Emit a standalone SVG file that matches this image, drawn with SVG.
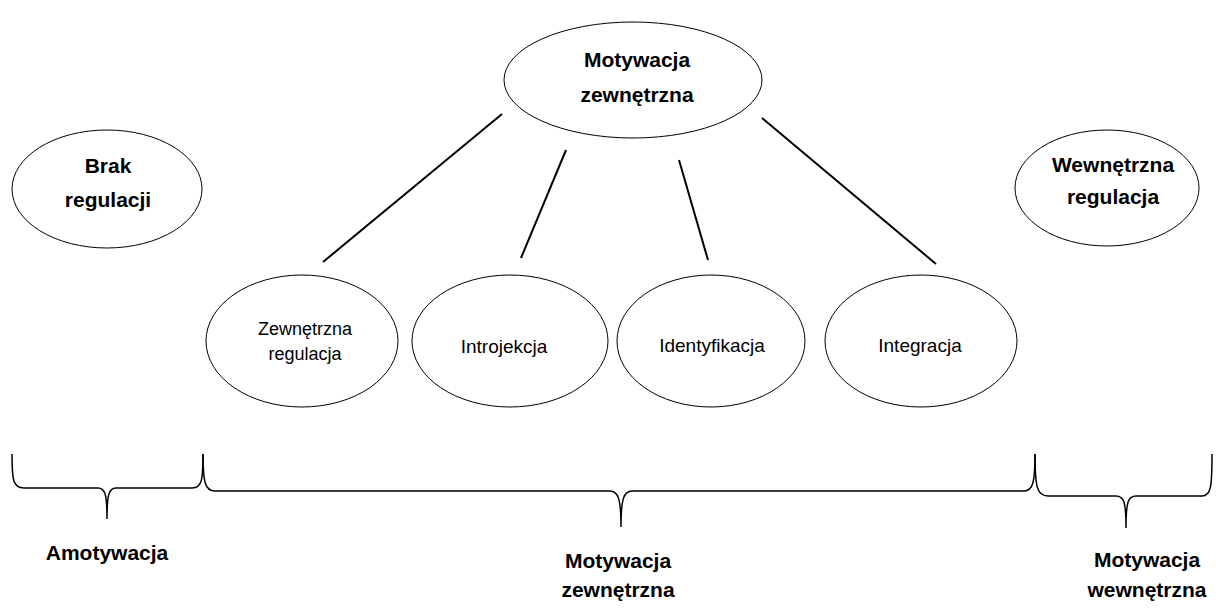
<svg xmlns="http://www.w3.org/2000/svg" width="1216" height="608" viewBox="0 0 1216 608">
  <style>
    .node ellipse { fill: #ffffff; stroke: #000000; stroke-width: 1; }
    .bold { font-family: "Liberation Sans", Arial, sans-serif; font-weight: bold; font-size: 21px; fill: #000000; text-anchor: middle; }
    .reg { font-family: "Liberation Sans", Arial, sans-serif; font-size: 19px; fill: #000000; text-anchor: middle; }
    .small { font-size: 18px; }
    .conn line { stroke: #000000; stroke-width: 2; }
    .brace path { fill: none; stroke: #000000; stroke-width: 1.5; }
  </style>
  <rect width="1216" height="608" fill="#ffffff"/>

  <!-- connectors from the top node to the four sub-types -->
  <g id="connectors" class="conn">
    <line x1="502" y1="114" x2="323" y2="262"/>
    <line x1="566" y1="150" x2="521" y2="258"/>
    <line x1="679" y1="160" x2="708" y2="260"/>
    <line x1="762" y1="118" x2="936" y2="264"/>
  </g>

  <g id="motywacja-zewnetrzna" class="node">
    <ellipse cx="633" cy="80" rx="129" ry="58"/>
    <text class="bold" x="637" y="67">Motywacja</text>
    <text class="bold" x="637" y="102">zewnętrzna</text>
  </g>

  <g id="brak-regulacji" class="node">
    <ellipse cx="107" cy="189" rx="95" ry="59"/>
    <text class="bold" x="108" y="173">Brak</text>
    <text class="bold" x="108" y="207">regulacji</text>
  </g>

  <g id="wewnetrzna-regulacja" class="node">
    <ellipse cx="1107" cy="188" rx="92" ry="58"/>
    <text class="bold" x="1113" y="172">Wewnętrzna</text>
    <text class="bold" x="1113" y="204">regulacja</text>
  </g>

  <g id="zewnetrzna-regulacja" class="node">
    <ellipse cx="302" cy="341" rx="96" ry="66"/>
    <text class="reg small" x="305" y="335">Zewnętrzna</text>
    <text class="reg small" x="305" y="360">regulacja</text>
  </g>

  <g id="introjekcja" class="node">
    <ellipse cx="510" cy="341" rx="98" ry="66"/>
    <text class="reg" x="504" y="353">Introjekcja</text>
  </g>

  <g id="identyfikacja" class="node">
    <ellipse cx="711" cy="341" rx="94" ry="66"/>
    <text class="reg" x="712" y="352">Identyfikacja</text>
  </g>

  <g id="integracja" class="node">
    <ellipse cx="921" cy="341" rx="96" ry="66"/>
    <text class="reg" x="920" y="352">Integracja</text>
  </g>

  <!-- curly braces grouping the continuum -->
  <g id="braces" class="brace">
    <path d="M12,454 C12,480 13,488 24,488 L98,488 C105,488 107,494 107,519 C107,494 109,488 116,488 L192,488 C202,488 203,480 203,454"/>
    <path d="M203,454 C203,482 205,491 215,491 L610,491 C618,491 621,498 621,527 C621,498 624,491 632,491 L1024,491 C1033,491 1035,482 1035,454"/>
    <path d="M1035,454 C1035,487 1037,496 1048,496 L1116,496 C1124,496 1126,502 1126,528 C1126,502 1128,496 1136,496 L1202,496 C1211,496 1212,487 1212,454"/>
  </g>

  <g id="label-amotywacja">
    <text class="bold" x="107" y="560">Amotywacja</text>
  </g>
  <g id="label-motywacja-zewnetrzna">
    <text class="bold" x="618" y="568">Motywacja</text>
    <text class="bold" x="618" y="597">zewnętrzna</text>
  </g>
  <g id="label-motywacja-wewnetrzna">
    <text class="bold" x="1147" y="567">Motywacja</text>
    <text class="bold" x="1147" y="597">wewnętrzna</text>
  </g>
</svg>
